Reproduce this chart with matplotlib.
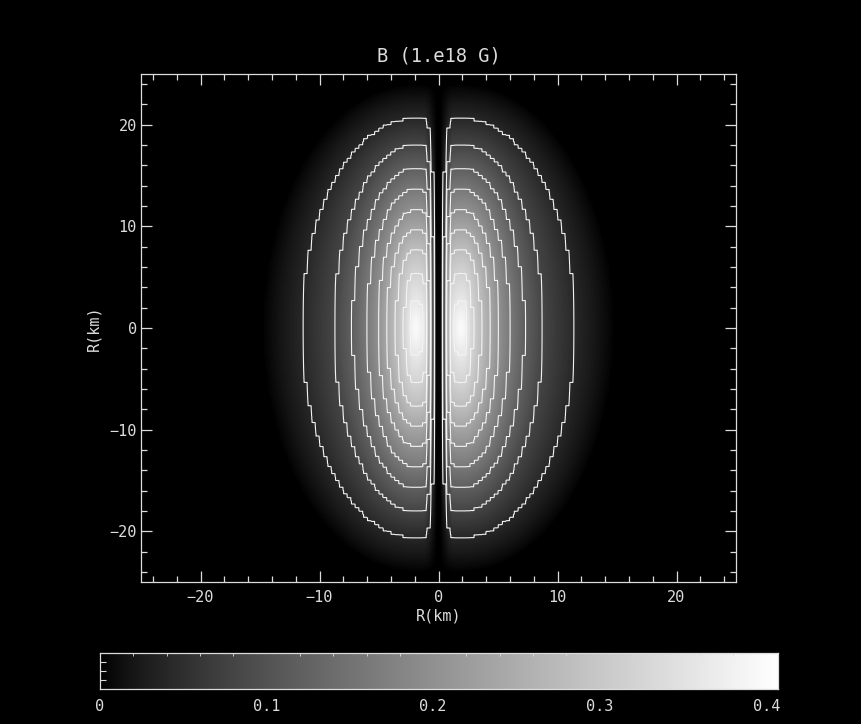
import numpy as np
import matplotlib
matplotlib.use('Agg')
import matplotlib.pyplot as plt
from matplotlib.colors import LinearSegmentedColormap
from matplotlib.ticker import MultipleLocator

# B in units of 1e18 G: each level with its extent, read as the
# half-width outward from the lobe peak at z = 0 and the height on the peak column
levels_b = [0.0, 0.04, 0.08, 0.12, 0.16, 0.20, 0.24, 0.28, 0.32, 0.36, 0.407]
half_width_km = [12.8, 9.5, 6.8, 5.25, 4.05, 3.1, 2.37, 1.6, 0.9, 0.45, 0.01]
top_km = [24.0, 20.6, 18.0, 15.7, 13.65, 11.6, 9.65, 7.8, 5.5, 2.8, 0.01]
peak_r_km = 2.0
inner_scale = 0.5

# suppression close to the symmetry axis
axis_r_km = [0.0, 0.25, 0.6, 0.9, 1.2]
axis_factor = [0.0, 0.02, 0.45, 0.85, 1.0]

contour_levels = [0.04, 0.08, 0.12, 0.16, 0.20, 0.24, 0.28, 0.32, 0.36]
cbar_ticks = [0, 0.1, 0.2, 0.3, 0.4]
b_max = levels_b[-1]

fg = '#dcdcdc'
plt.rcParams['font.family'] = 'DejaVu Sans Mono'

# grey ramp, a bit lifted in the darks
g = np.linspace(0, 1, 256) ** 0.8
greys = LinearSegmentedColormap.from_list('greys', np.stack([g, g, g], axis=1))

# field on a coarse grid, like the simulation output
n = 150
cell = 50.0 / n
xc = -25 + cell * (np.arange(n) + 0.5)
X, Z = np.meshgrid(xc, xc)
rabs = np.abs(X)
d = rabs - peak_r_km
d = np.where(d < 0, -d * inner_scale, d)

lo = np.zeros_like(X)
hi = np.full_like(X, b_max)
for _ in range(30):
    mid = 0.5 * (lo + hi)
    hw = np.interp(mid, levels_b, half_width_km)
    tp = np.interp(mid, levels_b, top_km)
    inside = (d / hw) ** 2 + (Z / tp) ** 2 < 1
    lo = np.where(inside, mid, lo)
    hi = np.where(inside, hi, mid)
field = lo * np.interp(rabs, axis_r_km, axis_factor)

# blocky copy so the contours follow the cells
k = 4
fine = np.repeat(np.repeat(field, k, axis=0), k, axis=1)
xf = -25 + (cell / k) * (np.arange(n * k) + 0.5)

fig = plt.figure(figsize=(8.61, 7.24), dpi=100, facecolor='black')
ax = fig.add_axes([141 / 861, 1 - 582 / 724, 595 / 861, 508 / 724])
ax.set_facecolor('black')
ax.imshow(field, origin='lower', extent=[-25, 25, -25, 25], cmap=greys,
          vmin=0, vmax=b_max, interpolation='bilinear', aspect='auto')
ax.contour(xf, xf, fine, levels=contour_levels, colors='#f4f4f4', linewidths=0.8)
ax.set_xlim(-25, 25)
ax.set_ylim(-25, 25)

ax.set_xticks([-20, -10, 0, 10, 20])
ax.set_yticks([-20, -10, 0, 10, 20])
ax.xaxis.set_minor_locator(MultipleLocator(2))
ax.yaxis.set_minor_locator(MultipleLocator(2))
ax.tick_params(which='both', direction='in', top=True, right=True,
               colors=fg, labelcolor=fg, labelsize=11, width=0.9)
ax.tick_params(which='major', length=8)
ax.tick_params(which='minor', length=4)
ax.tick_params(axis='x', pad=6)
ax.tick_params(axis='y', pad=3)
for s in ax.spines.values():
    s.set_color(fg)
    s.set_linewidth(0.9)

ax.set_xlabel('R(km)', color=fg, fontsize=11, labelpad=2)
ax.set_ylabel('R(km)', color=fg, fontsize=11, labelpad=6)
ax.set_title('B (1.e18 G)', color=fg, fontsize=13.5, pad=9)

# colour bar
cax = fig.add_axes([100 / 861, 1 - 689 / 724, 678 / 861, 36 / 724])
grad = np.linspace(0, b_max, 256)[None, :]
cax.imshow(grad, extent=[0, b_max, 0, 1], cmap=greys, vmin=0, vmax=b_max,
           aspect='auto', interpolation='bilinear')
cax.set_xlim(0, b_max)
cax.set_ylim(0, 1)
cax.set_xticks(cbar_ticks)
cax.set_xticklabels(['0', '0.1', '0.2', '0.3', '0.4'])
cax.xaxis.set_minor_locator(MultipleLocator(0.02))
cax.tick_params(axis='x', which='major', length=0, pad=7, labelsize=11,
                colors=fg, labelcolor=fg)
cax.tick_params(axis='x', which='minor', top=True, bottom=False,
                direction='in', length=2, color=fg)
cax.set_yticks([0.25, 0.5, 0.75])
cax.tick_params(axis='y', direction='in', length=4, labelleft=False, color=fg)
for s in cax.spines.values():
    s.set_color(fg)
    s.set_linewidth(0.9)

fig.savefig('out.png', dpi=100, facecolor='black')
